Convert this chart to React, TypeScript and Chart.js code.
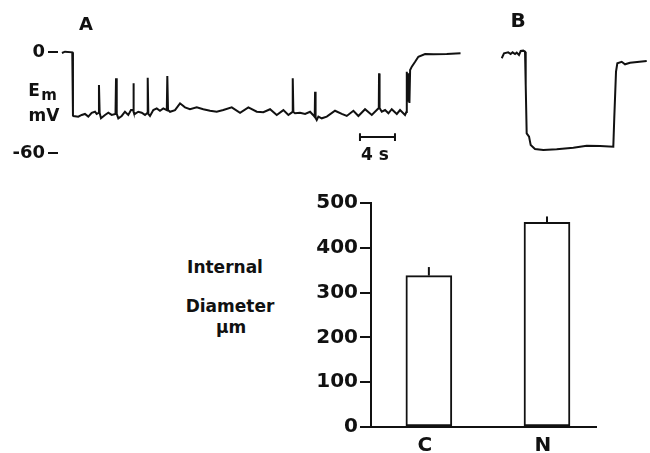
import React, { useEffect, useRef } from "react";
import { Chart, registerables } from "chart.js";
Chart.register(...registerables);

const FONT = '"DejaVu Sans", "Liberation Sans", Arial, sans-serif';
const INK = "#111";

// ---- Trace A: time (s) vs membrane potential (mV)
const traceATime = [
  -0.05, 0.3, 1.13, 1.21, 1.25, 1.82, 2.21, 2.58, 2.96, 3.35,
  3.73, 3.92, 4.13, 4.18, 4.26, 4.41, 4.87, 5.25, 5.63, 6.07,
  6.13, 6.21, 6.39, 6.78, 7.15, 7.53, 7.84, 8.07, 8.1, 8.18,
  8.3, 8.67, 9.06, 9.44, 9.7, 9.75, 9.82, 10.01, 10.39, 10.78,
  11.15, 11.53, 11.93, 11.99, 12.07, 12.3, 12.87, 13.44, 14.01, 14.58,
  15.35, 16.1, 16.87, 17.63, 18.39, 19.35, 20.3, 21.25, 22.21, 22.96,
  23.73, 24.49, 25.25, 25.82, 26.27, 26.32, 26.39, 26.58, 27.15, 27.73,
  28.3, 28.64, 28.83, 28.87, 28.93, 29.06, 29.25, 29.63, 30.21, 31.15,
  31.92, 32.49, 33.25, 33.82, 34.58, 35.35, 35.92, 36.15, 36.18, 36.24,
  36.49, 36.87, 37.25, 37.63, 38.21, 38.58, 39.15, 39.3, 39.35, 39.44,
  39.53, 39.65, 39.73, 39.92, 40.3, 40.67, 41.44, 42.39, 43.92, 45.49,
];
const traceAVolt = [
  -0.6, 0.2, -0.2, -37.7, -38.0, -38.4, -37.4, -36.8, -38.4, -36.1,
  -35.5, -36.8, -36.2, -19.6, -36.2, -39.4, -37.4, -36.1, -37.4, -36.8,
  -15.6, -36.8, -39.4, -38.0, -35.5, -37.4, -34.5, -34.5, -18.6, -35.7,
  -36.8, -35.5, -36.1, -37.4, -36.2, -15.3, -36.8, -38.0, -34.5, -33.5,
  -34.9, -33.5, -34.5, -14.3, -34.5, -35.5, -34.5, -30.5, -32.9, -34.0,
  -32.9, -34.0, -34.9, -35.5, -34.5, -32.9, -36.1, -32.9, -35.5, -35.8,
  -34.0, -37.4, -34.5, -37.4, -35.7, -15.6, -35.7, -36.4, -36.1, -36.8,
  -35.5, -37.4, -38.6, -23.6, -39.2, -40.4, -38.4, -39.4, -38.4, -34.9,
  -36.8, -38.0, -34.9, -38.0, -34.0, -37.4, -34.5, -33.3, -12.7, -33.3,
  -35.5, -34.5, -36.4, -34.0, -36.8, -34.5, -37.4, -35.7, -11.7, -29.5,
  -12.7, -30.3, -10.7, -8.7, -5.8, -2.8, -1.2, -1.4, -1.2, -0.8,
];
const voltTicks = [0, -60];

// 4 s calibration bar (drawn on trace A's time scale)
const calTime = [34, 34, 34, 38, 38, 38];
const calVolt = [-48.2, -52.9, -50.5, -50.5, -48.2, -52.9];

// ---- Trace B
const traceBTime = [
  0.77, 1.03, 1.51, 1.79, 2.01, 2.29, 2.48, 2.74, 2.94, 3.23,
  3.43, 3.51, 3.62, 3.89, 4.08, 4.57, 5.52, 7.05, 8.95, 10.48,
  12.0, 13.52, 13.63, 13.83, 13.98, 14.48, 14.86, 15.43, 17.34,
];
const traceBVolt = [
  -3.7, -0.8, -0.2, -1.2, -0.2, -1.2, -0.4, -1.8, 0.6, 0.8,
  0.2, -19.6, -48.3, -50.3, -55.3, -57.6, -58.2, -57.8, -56.9, -55.7,
  -55.9, -56.3, -39.4, -11.7, -6.7, -5.8, -7.3, -6.4, -5.3,
];

// ---- Bar chart: internal diameter (µm)
const groups = ["C", "N"];
const diameters = [338, 457];
const diameterErr = [19, 13];
const diameterTicks = [0, 100, 200, 300, 400, 500];

const pts = (xs: number[], ys: number[]) => xs.map((x, i) => ({ x, y: ys[i] }));

const tickFont = (size: number) => ({ family: FONT, size, weight: "bold" as const });

const errorBarPlugin = {
  id: "errorBars",
  afterDatasetsDraw(chart: any) {
    const { ctx, scales } = chart;
    const xs = scales.x;
    const ys = scales.y;
    ctx.save();
    ctx.strokeStyle = INK;
    ctx.lineWidth = 2;
    diameters.forEach((d, i) => {
      const px = xs.getPixelForValue(i + 1);
      ctx.beginPath();
      ctx.moveTo(px, ys.getPixelForValue(d));
      ctx.lineTo(px, ys.getPixelForValue(d + diameterErr[i]));
      ctx.stroke();
    });
    ctx.restore();
  },
};

export default function App() {
  const refA = useRef<HTMLCanvasElement>(null);
  const refB = useRef<HTMLCanvasElement>(null);
  const refBar = useRef<HTMLCanvasElement>(null);

  useEffect(() => {
    const noPlugins = { legend: { display: false }, tooltip: { enabled: false } };

    const chartA = new Chart(refA.current!, {
      type: "line",
      data: {
        datasets: [
          {
            data: pts(traceATime, traceAVolt),
            borderColor: INK,
            borderWidth: 2,
            pointRadius: 0,
            tension: 0,
            clip: false as any,
          },
          {
            data: pts(calTime, calVolt),
            borderColor: INK,
            borderWidth: 2,
            pointRadius: 0,
            tension: 0,
            clip: false as any,
          },
        ],
      },
      options: {
        animation: false,
        responsive: false,
        plugins: noPlugins,
        layout: { padding: { top: 22, bottom: 17, left: 0, right: 0 } },
        scales: {
          x: { type: "linear", min: -0.5, max: 46, display: false },
          y: {
            type: "linear",
            min: -60,
            max: 0,
            afterBuildTicks: (s: any) => {
              s.ticks = voltTicks.map((v) => ({ value: v }));
            },
            afterFit: (s: any) => {
              s.width = 58;
            },
            border: { display: false },
            grid: { drawOnChartArea: false, color: INK, lineWidth: 2, tickLength: 10 },
            ticks: { font: tickFont(18), color: INK, padding: 3, callback: (v: any) => String(v) },
          },
        },
      },
    });

    const chartB = new Chart(refB.current!, {
      type: "line",
      data: {
        datasets: [
          {
            data: pts(traceBTime, traceBVolt),
            borderColor: INK,
            borderWidth: 2,
            pointRadius: 0,
            tension: 0,
            clip: false as any,
          },
        ],
      },
      options: {
        animation: false,
        responsive: false,
        plugins: noPlugins,
        layout: { padding: { top: 22, bottom: 17, left: 0, right: 0 } },
        scales: {
          x: { type: "linear", min: 0, max: 17.714, display: false },
          y: { type: "linear", min: -60, max: 0, display: false },
        },
      },
    });

    const chartBar = new Chart(refBar.current!, {
      type: "bar",
      data: {
        datasets: [
          {
            data: groups.map((_, i) => ({ x: i + 1, y: diameters[i] })),
            backgroundColor: "#fff",
            borderColor: INK,
            borderWidth: 2,
            borderSkipped: false,
            barThickness: 46,
          },
        ],
      },
      options: {
        animation: false,
        responsive: false,
        plugins: noPlugins,
        layout: { padding: { top: 18, right: 14, left: 0, bottom: 0 } },
        scales: {
          x: {
            type: "linear",
            offset: false,
            bounds: "data",
            min: 0.51,
            max: 2.415,
            afterBuildTicks: (s: any) => {
              s.ticks = groups.map((_, i) => ({ value: i + 1 }));
            },
            afterFit: (s: any) => {
              s.height = 26;
            },
            grid: { display: true, offset: false, drawOnChartArea: false, drawTicks: false },
            border: { display: true, color: INK, width: 2 },
            ticks: {
              font: tickFont(20),
              color: INK,
              padding: 7,
              labelOffset: -4,
              callback: (v: any) => groups[Math.round(v) - 1] ?? "",
            },
          },
          y: {
            type: "linear",
            min: 0,
            max: 500,
            afterBuildTicks: (s: any) => {
              s.ticks = diameterTicks.map((v) => ({ value: v }));
            },
            afterFit: (s: any) => {
              s.width = 81;
            },
            grid: { drawOnChartArea: false, color: INK, lineWidth: 2, tickLength: 11 },
            border: { display: true, color: INK, width: 2 },
            ticks: { font: tickFont(20), color: INK, padding: 2 },
          },
        },
      },
      plugins: [errorBarPlugin],
    });

    return () => {
      chartA.destroy();
      chartB.destroy();
      chartBar.destroy();
    };
  }, []);

  const label = (
    text: React.ReactNode,
    cx: number,
    cy: number,
    size: number,
    extra: React.CSSProperties = {}
  ) => (
    <div
      style={{
        position: "absolute",
        left: cx,
        top: cy,
        transform: "translate(-50%, -50%)",
        fontFamily: FONT,
        fontWeight: "bold",
        fontSize: size,
        lineHeight: 1,
        color: INK,
        whiteSpace: "nowrap",
        ...extra,
      }}
    >
      {text}
    </div>
  );

  return (
    <div
      style={{
        position: "fixed",
        left: 0,
        top: 0,
        width: 650,
        height: 453,
        background: "#fff",
        overflow: "hidden",
      }}
    >
      <canvas
        ref={refA}
        width={465}
        height={140}
        style={{ position: "absolute", left: 0, top: 30, width: 465, height: 140 }}
      />
      <canvas
        ref={refB}
        width={155}
        height={140}
        style={{ position: "absolute", left: 495, top: 30, width: 155, height: 140 }}
      />
      <canvas
        ref={refBar}
        width={320}
        height={268}
        style={{ position: "absolute", left: 290, top: 185, width: 320, height: 268 }}
      />
      {label("A", 86, 23.5, 18)}
      {label("B", 518, 19.5, 20)}
      {label("E", 34, 90, 17)}
      {label("m", 49, 95, 15)}
      {label("mV", 44, 115, 17)}
      {label("4 s", 375, 153.5, 17)}
      {label("Internal", 225, 267, 17)}
      {label("Diameter", 230, 306, 17)}
      {label("µm", 231, 327, 17)}
    </div>
  );
}
